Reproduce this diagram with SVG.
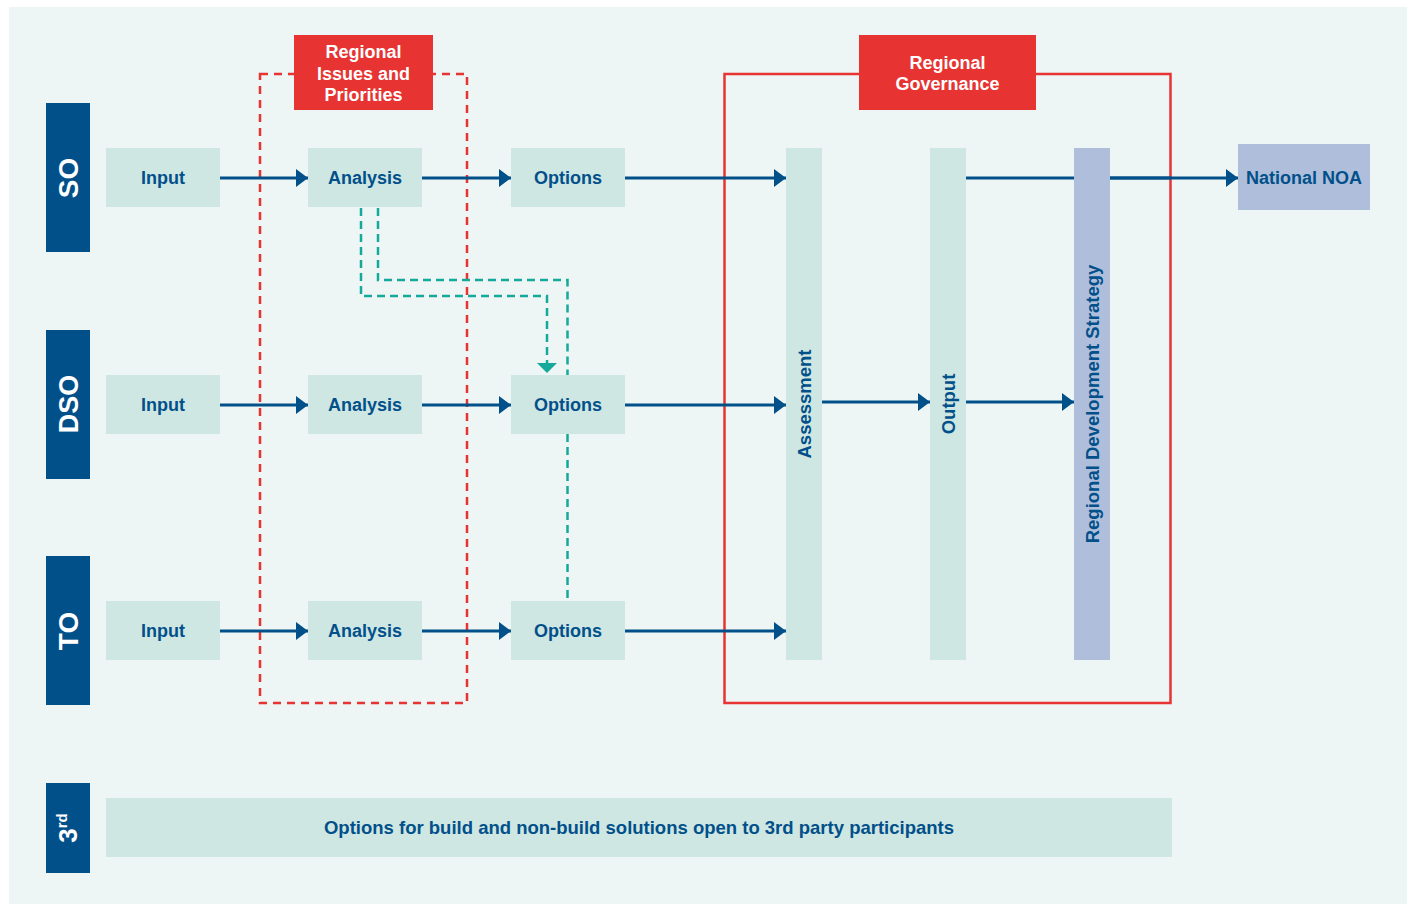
<svg xmlns="http://www.w3.org/2000/svg" width="1413" height="904" viewBox="0 0 1413 904">
<style>
.bg{fill:#EEF6F5}
.side{fill:#02508A}
.box{fill:#CFE7E2}
.blue{fill:#AFBFDB}
.red{fill:#E73331}
.t{font-family:"Liberation Sans",Arial,sans-serif;font-weight:bold;fill:#02508A;font-size:18px;text-anchor:middle}
.v{font-size:18.5px}
.w{font-family:"Liberation Sans",Arial,sans-serif;font-weight:bold;fill:#FFFFFF;text-anchor:middle}
.arr{stroke:#02508A;stroke-width:3;fill:none}
.tdash{stroke:#14A99A;stroke-width:2.5;fill:none;stroke-dasharray:8 5}
</style>
<defs>
<marker id="ah" markerUnits="userSpaceOnUse" markerWidth="12" markerHeight="18" refX="12" refY="9" orient="auto">
<path d="M0,0 L12,9 L0,18 z" fill="#02508A"/>
</marker>
<marker id="th" markerUnits="userSpaceOnUse" markerWidth="10" markerHeight="20" refX="10" refY="10" orient="auto">
<path d="M0,0 L10,10 L0,20 z" fill="#14A99A"/>
</marker>
</defs>
<rect x="0" y="0" width="1413" height="904" fill="#FFFFFF"/>
<rect class="bg" x="9" y="7" width="1398" height="897"/>

<g id="regional-issues-frame">
<rect x="260" y="74" width="207" height="629" fill="none" stroke="#E73331" stroke-width="2.5" stroke-dasharray="8 6"/>
</g>
<g id="regional-governance-frame">
<rect x="724.5" y="74" width="446" height="629" fill="none" stroke="#E73331" stroke-width="2.5"/>
</g>

<g id="connectors">
<line class="arr" x1="220" y1="178" x2="308" y2="178" marker-end="url(#ah)"/>
<line class="arr" x1="422" y1="178" x2="511" y2="178" marker-end="url(#ah)"/>
<line class="arr" x1="625" y1="178" x2="786" y2="178" marker-end="url(#ah)"/>
<line class="arr" x1="220" y1="405" x2="308" y2="405" marker-end="url(#ah)"/>
<line class="arr" x1="422" y1="405" x2="511" y2="405" marker-end="url(#ah)"/>
<line class="arr" x1="625" y1="405" x2="786" y2="405" marker-end="url(#ah)"/>
<line class="arr" x1="220" y1="631" x2="308" y2="631" marker-end="url(#ah)"/>
<line class="arr" x1="422" y1="631" x2="511" y2="631" marker-end="url(#ah)"/>
<line class="arr" x1="625" y1="631" x2="786" y2="631" marker-end="url(#ah)"/>
<line class="arr" x1="822" y1="402" x2="930" y2="402" marker-end="url(#ah)"/>
<line class="arr" x1="966" y1="402" x2="1074" y2="402" marker-end="url(#ah)"/>
<line class="arr" x1="966" y1="178" x2="1238" y2="178" marker-end="url(#ah)"/>
<path class="tdash" d="M361,208 V296 H547 V373" marker-end="url(#th)"/>
<path class="tdash" d="M378,208 V280 H567.5 V375"/>
<path class="tdash" d="M567.5,434 V601"/>
</g>

<g id="label-so"><rect class="side" x="46" y="103" width="44" height="149"/><text class="w" font-size="28" transform="translate(78,178) rotate(-90)">SO</text></g>
<g id="label-dso"><rect class="side" x="46" y="330" width="44" height="149"/><text class="w" font-size="27" transform="translate(78,404) rotate(-90)">DSO</text></g>
<g id="label-to"><rect class="side" x="46" y="556" width="44" height="149"/><text class="w" font-size="28" transform="translate(78,631) rotate(-90)">TO</text></g>
<g id="label-3rd"><rect class="side" x="46" y="783" width="44" height="90"/><text class="w" font-size="26" transform="translate(77,828) rotate(-90)">3<tspan font-size="15" dy="-10">rd</tspan></text></g>

<g id="so-input"><rect class="box" x="106" y="148" width="114" height="59"/><text class="t" x="163" y="184">Input</text></g>
<g id="so-analysis"><rect class="box" x="308" y="148" width="114" height="59"/><text class="t" x="365" y="184">Analysis</text></g>
<g id="so-options"><rect class="box" x="511" y="148" width="114" height="59"/><text class="t" x="568" y="184">Options</text></g>
<g id="dso-input"><rect class="box" x="106" y="375" width="114" height="59"/><text class="t" x="163" y="411">Input</text></g>
<g id="dso-analysis"><rect class="box" x="308" y="375" width="114" height="59"/><text class="t" x="365" y="411">Analysis</text></g>
<g id="dso-options"><rect class="box" x="511" y="375" width="114" height="59"/><text class="t" x="568" y="411">Options</text></g>
<g id="to-input"><rect class="box" x="106" y="601" width="114" height="59"/><text class="t" x="163" y="637">Input</text></g>
<g id="to-analysis"><rect class="box" x="308" y="601" width="114" height="59"/><text class="t" x="365" y="637">Analysis</text></g>
<g id="to-options"><rect class="box" x="511" y="601" width="114" height="59"/><text class="t" x="568" y="637">Options</text></g>

<g id="regional-issues-label"><rect class="red" x="294" y="35" width="139" height="75"/>
<text class="w" font-size="18"><tspan x="363.5" y="58">Regional</tspan><tspan x="363.5" y="80">Issues and</tspan><tspan x="363.5" y="101">Priorities</tspan></text></g>
<g id="regional-governance-label"><rect class="red" x="859" y="35" width="177" height="75"/>
<text class="w" font-size="18"><tspan x="947.5" y="69">Regional</tspan><tspan x="947.5" y="90">Governance</tspan></text></g>

<g id="assessment"><rect class="box" x="786" y="148" width="36" height="512"/><text class="t v" transform="translate(810.5,404) rotate(-90)">Assessment</text></g>
<g id="output"><rect class="box" x="930" y="148" width="36" height="512"/><text class="t v" transform="translate(954.5,404) rotate(-90)">Output</text></g>
<g id="regional-development-strategy"><rect class="blue" x="1074" y="148" width="36" height="512"/><text class="t v" transform="translate(1098.5,404) rotate(-90)">Regional Development Strategy</text></g>
<line class="arr" x1="1110" y1="178" x2="1171" y2="178"/>
<g id="national-noa"><rect class="blue" x="1238" y="144" width="132" height="66"/><text class="t" x="1304" y="184">National NOA</text></g>

<g id="third-party"><rect class="box" x="106" y="798" width="1066" height="59"/><text class="t v" x="639" y="834">Options for build and non-build solutions open to 3rd party participants</text></g>
</svg>
